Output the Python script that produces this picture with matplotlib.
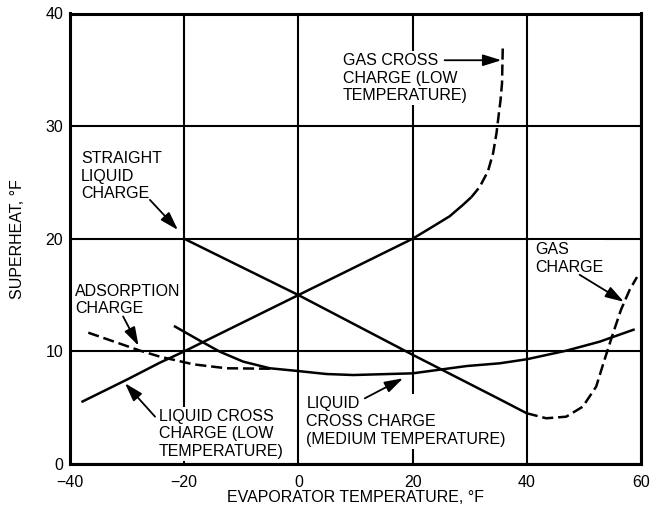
import matplotlib
matplotlib.use("Agg")
import matplotlib.pyplot as plt

plt.rcParams['font.family'] = ['Liberation Sans', 'DejaVu Sans']
plt.rcParams['lines.scale_dashes'] = False

# ---- data ----
x_ticks = [-40, -20, 0, 20, 40, 60]
y_ticks = [0, 10, 20, 30, 40]

# Liquid cross charge (low temperature), solid
lcl_x = [-38.0, -30.0, -24.25, -20.0, -10.0, 0.0, 10.0, 20.0, 23.6, 26.5, 28.8, 30.3]
lcl_y = [5.5, 7.5, 9.0, 10.0, 12.5, 15.0, 17.5, 20.0, 21.1, 22.0, 23.0, 23.7]

# Gas cross charge (low temperature), dashed
gcl_x = [30.3, 31.75, 33.2, 34.1, 34.7, 35.1, 35.4, 35.66, 35.8]
gcl_y = [23.7, 24.6, 26.0, 27.6, 29.4, 31.1, 32.3, 33.8, 37.2]

# Straight liquid charge, solid
slc_x = [-20.0, 0.0, 20.0, 35.25, 40.0]
slc_y = [20.0, 15.0, 9.7, 5.75, 4.5]

# Gas charge, dashed
gc_x = [40.0, 40.5, 43.4, 46.9, 49.8, 52.15, 53.6, 55.1, 56.5, 58.0, 59.3]
gc_y = [4.5, 4.44, 4.06, 4.2, 5.09, 6.87, 9.24, 11.6, 13.7, 15.45, 16.6]

# Liquid cross charge (medium temperature), solid
lcm_x = [-21.8, -17.25, -13.75, -9.67, -5.0, -0.15, 4.9, 9.6, 20.0, 29.5,
         35.25, 40.0, 46.9, 52.75, 58.9]
lcm_y = [12.26, 10.95, 9.97, 9.09, 8.5, 8.26, 7.99, 7.9, 8.05, 8.7,
         8.94, 9.3, 10.06, 10.86, 11.96]

# Adsorption charge, dashed
ads_x = [-36.8, -27.7, -24.25, -18.4, -12.6, -5.0]
ads_y = [11.66, 10.06, 9.53, 8.85, 8.5, 8.46]

labels = [
    "STRAIGHT\nLIQUID\nCHARGE",
    "GAS CROSS\nCHARGE (LOW\nTEMPERATURE)",
    "GAS\nCHARGE",
    "ADSORPTION\nCHARGE",
    "LIQUID CROSS\nCHARGE (LOW\nTEMPERATURE)",
    "LIQUID\nCROSS CHARGE\n(MEDIUM TEMPERATURE)",
]
label_xy = [(-38.1, 27.8), (7.8, 36.5), (41.4, 19.7), (-39.1, 16.0),
            (-24.4, 4.9), (1.4, 6.0)]
arrow_tail = [(-26.0, 23.45), (25.6, 35.85), (49.25, 16.8), (-30.7, 13.1),
              (-25.1, 4.2), (11.63, 5.83)]
arrow_head = [(-21.1, 20.78), (35.55, 35.85), (57.0, 14.4), (-28.0, 10.5),
              (-30.37, 7.17), (18.33, 7.61)]

# ---- figure ----
fig = plt.figure(figsize=(6.63, 5.15), dpi=100)
ax = fig.add_axes([70 / 663, 1 - 464 / 515, 571 / 663, 450.5 / 515])
ax.set_xlim(-40, 60)
ax.set_ylim(0, 40)
ax.set_xticks(x_ticks)
ax.set_yticks(y_ticks)
ax.tick_params(length=0, labelsize=11.5)
ax.tick_params(axis='x', pad=8)
ax.tick_params(axis='y', pad=5)
ax.grid(True, color='black', linewidth=1.5)
ax.set_axisbelow(True)
for s in ax.spines.values():
    s.set_linewidth(2.2)
    s.set_zorder(5)

lw = 1.8
dash = (0, (8, 3.5))
ax.plot(lcl_x, lcl_y, color='black', lw=lw, solid_capstyle='butt', zorder=4)
ax.plot(gcl_x, gcl_y, color='black', lw=lw, linestyle=dash, zorder=4)
ax.plot(slc_x, slc_y, color='black', lw=lw, solid_capstyle='butt', zorder=4)
ax.plot(gc_x, gc_y, color='black', lw=lw, linestyle=dash, zorder=4)
ax.plot(lcm_x, lcm_y, color='black', lw=lw, solid_capstyle='butt', zorder=4)
ax.plot(ads_x, ads_y, color='black', lw=lw, linestyle=dash, zorder=4)

for txt, (tx, ty) in zip(labels, label_xy):
    ax.text(tx, ty, txt, ha='left', va='top', fontsize=11.5, linespacing=1.22,
            bbox=dict(facecolor='white', edgecolor='none', pad=1.5), zorder=3)

for (hx, hy), (tx, ty) in zip(arrow_head, arrow_tail):
    ax.annotate('', xy=(hx, hy), xytext=(tx, ty),
                arrowprops=dict(arrowstyle='-|>,head_length=0.8,head_width=0.25',
                                color='black', lw=1.3, shrinkA=0, shrinkB=0,
                                mutation_scale=14),
                zorder=4)

ax.set_xlabel("EVAPORATOR TEMPERATURE, °F", fontsize=11.5)
ax.set_ylabel("SUPERHEAT, °F", fontsize=11.5)
ax.xaxis.set_label_coords(0.5, (464 - 497) / 450.5)
ax.xaxis.label.set_verticalalignment('center')
ax.yaxis.set_label_coords((18 - 70) / 571, 0.5)
ax.yaxis.label.set_verticalalignment('center')

fig.savefig("out.png", dpi=100)
